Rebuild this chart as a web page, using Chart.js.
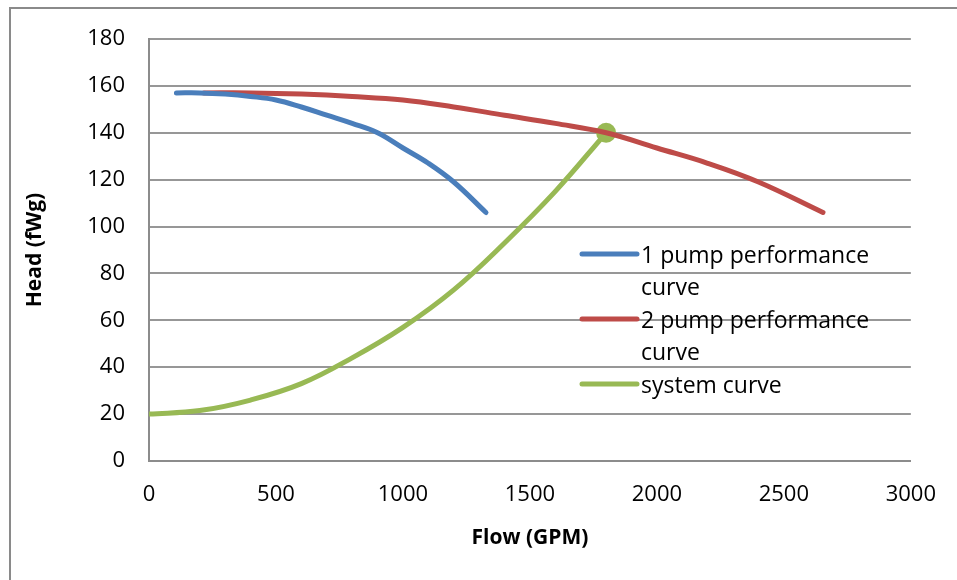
<!DOCTYPE html>
<html>
<head>
<meta charset="utf-8">
<script src="https://cdn.jsdelivr.net/npm/chart.js@4"></script>
<style>
    html, body { margin: 0; padding: 0; background: #fff; overflow: hidden; }
    #wrap { position: relative; width: 957px; height: 580px; }
    #frame { position: absolute; left: 9px; top: 7px; width: 1000px; height: 1000px; border: 2px solid #8a8a8a; }
    #pumpChart { position: absolute; left: 0; top: 0; }
</style>
</head>
<body>
<div id="wrap">
    <div id="frame"></div>
    <canvas id="pumpChart" width="957" height="580"></canvas>
</div>
<script>
// pump curves: flow (GPM) vs head (fWg)
const onePumpFlow = [108, 200, 300, 400, 500, 600, 700, 800, 900, 1000, 1100, 1200, 1327];
const onePumpHead = [157, 157, 156.5, 155.5, 154, 151, 147.5, 144, 140, 133.5, 127, 119, 106];

const twoPumpFlow = [216, 400, 600, 800, 1000, 1200, 1400, 1600, 1800, 2000, 2200, 2400, 2654];
const twoPumpHead = [157, 157, 156.5, 155.5, 154, 151, 147.5, 144, 140, 133.5, 127, 119, 106];

const systemFlow = [0, 200, 400, 600, 800, 1000, 1200, 1400, 1600, 1800];
const systemHead = [20, 21.5, 26, 33, 44, 57, 73, 93, 115, 140];

const seriesNames = ['1 pump performance curve', '2 pump performance curve', 'system curve'];
const seriesColors = ['#4a7ebb', '#be4b48', '#98b954'];

const headTicks = { min: 0, max: 180, step: 20 };
const flowTicks = { min: 0, max: 3000, step: 500 };

const FONT = '"Open Sans", Lato, sans-serif';

function toPoints(xs, ys) {
    return xs.map((x, i) => ({ x: x, y: ys[i] }));
}

// legend drawn inside the plot, with wrapped labels
const sideLegend = {
    id: 'sideLegend',
    afterDraw(chart) {
        const ctx = chart.ctx;
        const left = 582, lineLen = 55, textX = 641, maxW = 250, lineH = 32.5;
        let y = 254;
        ctx.save();
        ctx.font = '23px ' + FONT;
        ctx.textBaseline = 'middle';
        chart.data.datasets.forEach((ds) => {
            // wrap the label text
            const words = ds.label.split(' ');
            const rows = [];
            let row = '';
            words.forEach((w) => {
                const test = row ? row + ' ' + w : w;
                if (ctx.measureText(test).width > maxW && row) {
                    rows.push(row);
                    row = w;
                } else {
                    row = test;
                }
            });
            rows.push(row);

            ctx.strokeStyle = ds.borderColor;
            ctx.lineWidth = 5;
            ctx.lineCap = 'round';
            ctx.beginPath();
            ctx.moveTo(left, y);
            ctx.lineTo(left + lineLen, y);
            ctx.stroke();

            ctx.fillStyle = '#000';
            rows.forEach((r, i) => ctx.fillText(r, textX, y + 2 + i * lineH));
            y += rows.length * lineH;
        });
        ctx.restore();
    }
};

const lastOnly = systemFlow.map((_, i) => i === systemFlow.length - 1 ? 10 : 0);

function lineSet(label, pts, color, radius) {
    return {
        label: label,
        data: pts,
        borderColor: color,
        backgroundColor: color,
        showLine: true,
        pointRadius: radius,
        pointBorderWidth: 0,
        borderWidth: 5,
        borderCapStyle: 'round',
        borderJoinStyle: 'round',
        tension: 0.4
    };
}

const config = {
    type: 'scatter',
    data: {
        datasets: [
            lineSet(seriesNames[0], toPoints(onePumpFlow, onePumpHead), seriesColors[0], 0),
            lineSet(seriesNames[1], toPoints(twoPumpFlow, twoPumpHead), seriesColors[1], 0),
            lineSet(seriesNames[2], toPoints(systemFlow, systemHead), seriesColors[2], lastOnly)
        ]
    },
    options: {
        responsive: false,
        animation: false,
        layout: { padding: { left: 0, top: 39, right: 44, bottom: 0 } },
        plugins: {
            legend: { display: false },
            tooltip: { enabled: false }
        },
        scales: {
            x: {
                type: 'linear',
                min: flowTicks.min,
                max: flowTicks.max,
                afterFit(scale) { scale.height = 119; },
                ticks: {
                    stepSize: flowTicks.step,
                    color: '#000',
                    padding: 21,
                    maxRotation: 0,
                    callback: (v) => String(v),
                    font: { family: FONT, size: 22 }
                },
                grid: { display: false, drawTicks: false },
                border: { display: true, color: '#8c8c8c', width: 2 },
                title: {
                    display: true,
                    text: 'Flow (GPM)',
                    color: '#000',
                    font: { family: FONT, size: 21, weight: 'bold' },
                    padding: { top: 0, bottom: 29 }
                }
            },
            y: {
                type: 'linear',
                min: headTicks.min,
                max: headTicks.max,
                afterFit(scale) { scale.width = 149; },
                ticks: {
                    stepSize: headTicks.step,
                    color: '#000',
                    padding: 24,
                    font: { family: FONT, size: 22 }
                },
                grid: { color: '#979797', lineWidth: 2, drawTicks: false },
                border: { display: true, color: '#8c8c8c', width: 2 },
                title: {
                    display: true,
                    text: 'Head (fWg)',
                    color: '#000',
                    font: { family: FONT, size: 21, weight: 'bold' },
                    padding: { top: 22, bottom: 0 }
                }
            }
        }
    },
    plugins: [sideLegend]
};

new Chart(document.getElementById('pumpChart'), config);
</script>
</body>
</html>
